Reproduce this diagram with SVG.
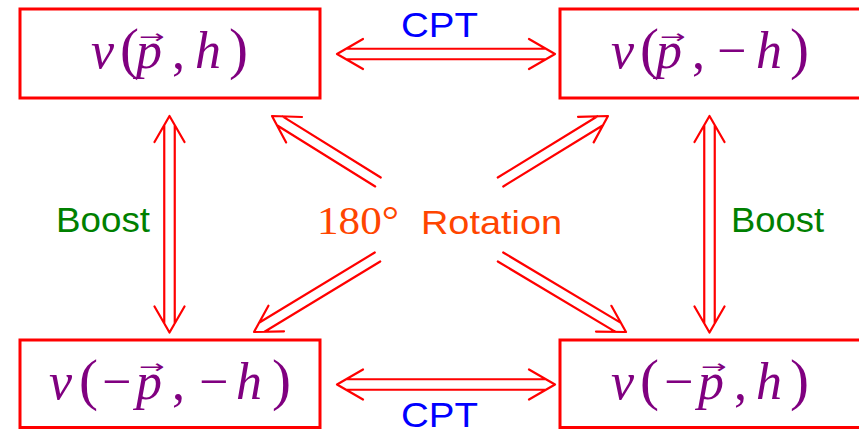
<svg xmlns="http://www.w3.org/2000/svg" width="859" height="429" viewBox="0 0 859 429">
<style>
.box{fill:none;stroke:#ff0000;stroke-width:3}
.ar{fill:none;stroke:#ff0000;stroke-width:2.2;stroke-linecap:round;stroke-linejoin:round}
.m{font-family:"Liberation Serif","Times New Roman",serif;font-size:52px;fill:#800080}
.i{font-style:italic}
.p{font-size:57px}
.acc{font-family:"DejaVu Sans",sans-serif;font-size:34px;fill:#800080}
.cpt{font-family:"Liberation Sans",Arial,sans-serif;font-size:35px;fill:#0000ff}
.boost{font-family:"Liberation Sans",Arial,sans-serif;font-size:35px;fill:#008000}
.rot{fill:#ff4500}
</style>
<rect width="859" height="429" fill="#ffffff"/>
<g id="node-tl">
<rect class="box" x="20" y="9" width="300" height="89"/>
<text class="m" y="68"><tspan class="i" x="91">ν</tspan><tspan class="p" x="120">(</tspan><tspan class="i" x="136">p</tspan><tspan x="172">,</tspan><tspan class="i" x="195">h</tspan><tspan class="p" x="229">)</tspan></text>
<text class="acc" transform="translate(139,43) scale(0.9,0.55)">→</text>
</g>
<g id="node-tr">
<rect class="box" x="560" y="9" width="302" height="89"/>
<text class="m" y="68"><tspan class="i" x="611">ν</tspan><tspan class="p" x="640">(</tspan><tspan class="i" x="656">p</tspan><tspan x="692">,</tspan><tspan x="717">−</tspan><tspan class="i" x="756">h</tspan><tspan class="p" x="790">)</tspan></text>
<text class="acc" transform="translate(660,43) scale(0.9,0.55)">→</text>
</g>
<g id="node-bl">
<rect class="box" x="20" y="340" width="300" height="87.5"/>
<text class="m" y="398.5"><tspan class="i" x="49">ν</tspan><tspan class="p" x="79">(</tspan><tspan x="102">−</tspan><tspan class="i" x="136">p</tspan><tspan x="172">,</tspan><tspan x="199">−</tspan><tspan class="i" x="236">h</tspan><tspan class="p" x="272">)</tspan></text>
<text class="acc" transform="translate(139,373) scale(0.9,0.55)">→</text>
</g>
<g id="node-br">
<rect class="box" x="560" y="340" width="302" height="87.5"/>
<text class="m" y="398.5"><tspan class="i" x="611">ν</tspan><tspan class="p" x="640">(</tspan><tspan x="664">−</tspan><tspan class="i" x="698">p</tspan><tspan x="734">,</tspan><tspan class="i" x="756">h</tspan><tspan class="p" x="790">)</tspan></text>
<text class="acc" transform="translate(701,373) scale(0.9,0.55)">→</text>
</g>
<g id="connectors">
<!-- top CPT -->
<path class="ar" d="M346.1,48.75 H545.9 M346.1,59.25 H545.9 M363,39 L337,54 L363,69 M529,39 L555,54 L529,69"/>
<!-- bottom CPT -->
<path class="ar" d="M346.1,379.25 H545.9 M346.1,389.75 H545.9 M363,369.5 L337,384.5 L363,399.5 M529,369.5 L555,384.5 L529,399.5"/>
<!-- left boost -->
<path class="ar" d="M164.25,125.1 V323.4 M174.75,125.1 V323.4 M154.5,142 L169.5,116 L184.5,142 M154.5,306.5 L169.5,332.5 L184.5,306.5"/>
<!-- right boost -->
<path class="ar" d="M704.25,125.1 V323.4 M714.75,125.1 V323.4 M694.5,142 L709.5,116 L724.5,142 M694.5,306.5 L709.5,332.5 L724.5,306.5"/>
<!-- rotation diagonals -->
<path class="ar" d="M276.94,125.27 L375.22,186.46 M282.5,116.35 L380.78,177.54 M286.14,142.47 L272,116 L302,117.01"/>
<path class="ar" d="M597.49,116.29 L497.75,177.53 M602.99,125.23 L503.25,186.47 M578,116.82 L608,116 L593.69,142.38"/>
<path class="ar" d="M264.51,331.77 L380.23,261.49 M259.05,322.79 L374.77,252.51 M284.01,331.32 L254,332 L268.43,305.68"/>
<path class="ar" d="M620.88,322.82 L503.19,252.49 M615.5,331.84 L497.81,261.51 M611.38,305.78 L626,332 L595.98,331.54"/>
</g>
<g id="labels">
<text class="cpt" x="401" y="37" textLength="77" lengthAdjust="spacingAndGlyphs">CPT</text>
<text class="cpt" x="401" y="426.5" textLength="77" lengthAdjust="spacingAndGlyphs">CPT</text>
<text class="boost" x="56" y="232" textLength="94" lengthAdjust="spacingAndGlyphs">Boost</text>
<text class="boost" x="731" y="232" textLength="93" lengthAdjust="spacingAndGlyphs">Boost</text>
<text class="rot" x="317" y="234" font-family="'Liberation Serif','Times New Roman',serif" font-size="39" textLength="82" lengthAdjust="spacingAndGlyphs">180°</text>
<text class="rot" x="421" y="234" font-family="'Liberation Sans',Arial,sans-serif" font-size="33" textLength="141" lengthAdjust="spacingAndGlyphs">Rotation</text>
</g>
</svg>
